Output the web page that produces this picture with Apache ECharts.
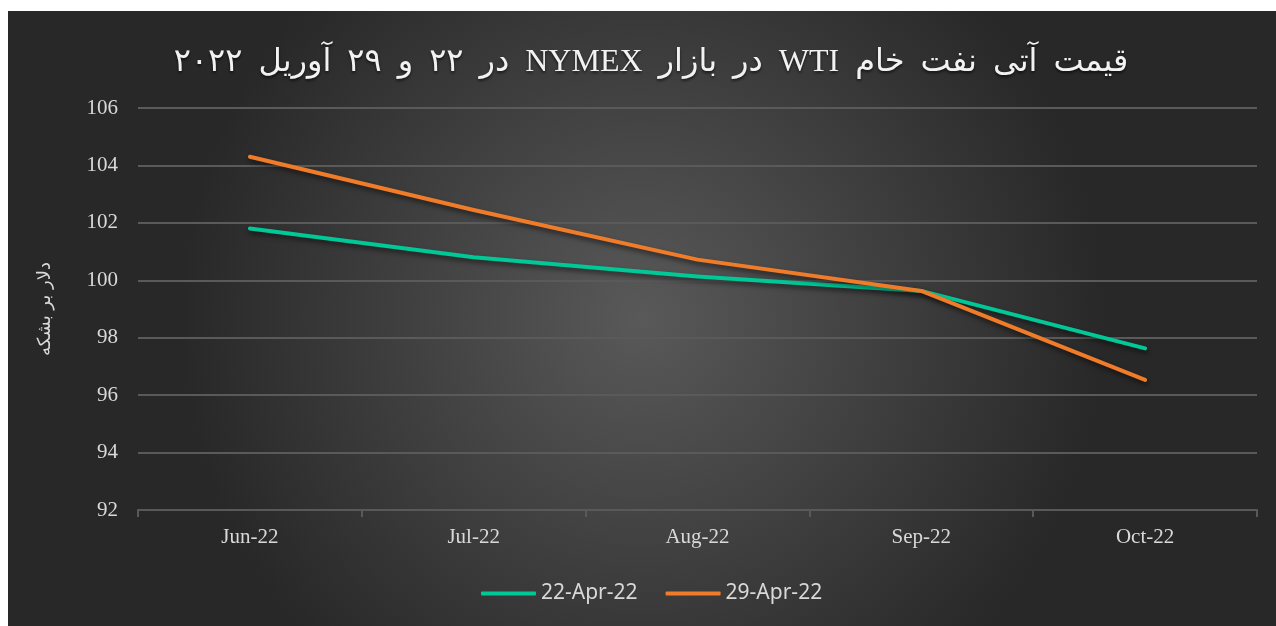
<!DOCTYPE html>
<html>
<head>
<meta charset="utf-8">
<script src="https://cdn.jsdelivr.net/npm/echarts@6/dist/echarts.min.js"></script>
<style>
html,body{margin:0;padding:0;background:#fff;}
#chart{width:1276px;height:626px;}
</style>
</head>
<body>
<div id="chart"></div>
<script>
const titleText = "\u202Bقیمت\u2002آتی\u2002نفت\u2002خام\u2002WTI\u2002در\u2002بازار\u2002NYMEX\u2002در\u2002۲۲\u2002و\u2002۲۹\u2002آوریل\u2002۲۰۲۲\u202C";
const yAxisName = "دلار بر بشکه";
const categories = ["Jun-22", "Jul-22", "Aug-22", "Sep-22", "Oct-22"];
const seriesNames = ["22-Apr-22", "29-Apr-22"];
const apr22 = [101.8, 100.8, 100.13, 99.63, 97.63];
const apr29 = [104.3, 102.45, 100.72, 99.63, 96.53];
const yMin = 92, yMax = 106, yStep = 2;

const chart = echarts.init(document.getElementById('chart'));
const lineShadow = {shadowColor: 'rgba(0,0,0,0.55)', shadowBlur: 5, shadowOffsetY: 3, shadowOffsetX: 1};
chart.setOption({
  backgroundColor: '#ffffff',
  animation: false,
  graphic: [{
    type: 'rect', left: 8, top: 11, z: -10, silent: true,
    shape: {width: 1268, height: 615},
    style: {
      fill: new echarts.graphic.RadialGradient(0.5, 0.5, 0.75, [
        {offset: 0, color: '#595959'},
        {offset: 1, color: '#282828'}
      ])
    }
  }],
  title: {
    text: titleText,
    left: 646,
    textAlign: 'center',
    top: 42,
    textStyle: {
      color: '#f2f2f2', fontSize: 32, fontWeight: 'normal',
      fontFamily: "'Liberation Serif','DejaVu Sans',serif",
      textShadowColor: 'rgba(0,0,0,0.6)', textShadowBlur: 3, textShadowOffsetY: 2
    }
  },
  legend: {
    top: 578,
    left: 476,
    itemWidth: 55,
    itemHeight: 4,
    itemGap: 28,
    icon: 'roundRect',
    textStyle: {color: '#d9d9d9', fontSize: 21, fontFamily: "'Noto Sans','Open Sans',sans-serif"},
    data: seriesNames
  },
  grid: {left: 138, right: 19, top: 108, bottom: 116},
  xAxis: {
    type: 'category',
    data: categories,
    boundaryGap: true,
    axisLine: {lineStyle: {color: '#595959', width: 2}},
    axisTick: {show: true, length: 7, lineStyle: {color: '#595959', width: 2}},
    axisLabel: {color: '#d9d9d9', fontSize: 21, margin: 17, fontFamily: "'Liberation Serif','Times New Roman',serif"}
  },
  yAxis: {
    type: 'value',
    min: yMin, max: yMax, interval: yStep,
    name: yAxisName,
    nameLocation: 'middle',
    nameGap: 84,
    nameRotate: 90,
    nameTextStyle: {color: '#d9d9d9', fontSize: 18, fontFamily: "'DejaVu Sans',sans-serif"},
    axisLine: {show: false},
    axisTick: {show: false},
    splitLine: {lineStyle: {color: '#5a5a5a', width: 2}},
    axisLabel: {color: '#d9d9d9', fontSize: 21, margin: 20, fontFamily: "'Liberation Serif','Times New Roman',serif"}
  },
  series: [
    {
      name: seriesNames[0], type: 'line', data: apr22,
      symbol: 'none', color: '#00c896',
      lineStyle: Object.assign({width: 4, cap: 'round', join: 'round', color: '#00c896'}, lineShadow)
    },
    {
      name: seriesNames[1], type: 'line', data: apr29,
      symbol: 'none', color: '#f07c2a',
      lineStyle: Object.assign({width: 4, cap: 'round', join: 'round', color: '#f07c2a'}, lineShadow)
    }
  ]
});
</script>
</body>
</html>
